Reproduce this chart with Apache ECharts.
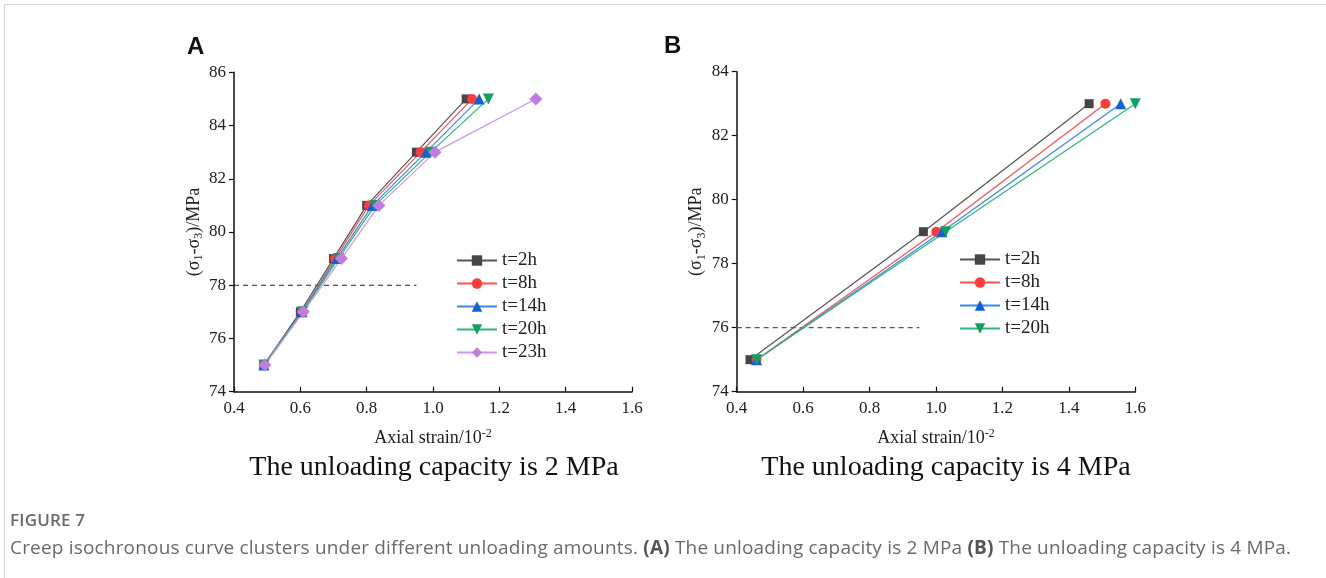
<!DOCTYPE html>
<html>
<head>
<meta charset="utf-8">
<script src="https://cdn.jsdelivr.net/npm/echarts@6/dist/echarts.min.js"></script>
<style>
  html, body { margin: 0; padding: 0; background: #fff; }
  #frame {
    position: absolute; left: 4px; top: 4px; width: 1330px; height: 580px;
    border-top: 1px solid #d4d4d4; border-left: 1px solid #d4d4d4;
  }
  #chart { position: absolute; left: 0; top: 0; width: 1326px; height: 578px; }
  .cap { position: absolute; left: 10px; font-family: "Open Sans", "Noto Sans", sans-serif; color: #6a6a6a; }
  #figno { top: 508px; font-size: 17px; font-weight: 600; letter-spacing: 0.2px; }
  #captext { top: 534px; font-size: 19px; letter-spacing: 0.18px; white-space: nowrap; }
  #captext b { font-weight: 700; color: #555; }
</style>
</head>
<body>
<div id="frame"></div>
<div id="chart"></div>
<div class="cap" id="figno">FIGURE 7</div>
<div class="cap" id="captext">Creep isochronous curve clusters under different unloading amounts. <b>(A)</b> The unloading capacity is 2 MPa <b>(B)</b> The unloading capacity is 4 MPa.</div>
<script>
// Panel A: unloading capacity 2 MPa (stress levels 75..85 MPa)
const stressA = [75, 77, 79, 81, 83, 85];
const strainA_2h = [0.49, 0.60, 0.70, 0.80, 0.95, 1.10];
const strainA_8h = [0.49, 0.605, 0.705, 0.807, 0.963, 1.118];
const strainA_14h = [0.49, 0.605, 0.71, 0.817, 0.979, 1.139];
const strainA_20h = [0.49, 0.607, 0.715, 0.825, 0.993, 1.167];
const strainA_23h = [0.493, 0.609, 0.724, 0.837, 1.006, 1.31];
const refLineA = [[0.4, 78], [0.95, 78]];

// Panel B: unloading capacity 4 MPa (stress levels 75, 79, 83 MPa)
const stressB = [75, 79, 83];
const strainB_2h = [0.44, 0.962, 1.461];
const strainB_8h = [0.46, 1.001, 1.51];
const strainB_14h = [0.46, 1.018, 1.556];
const strainB_20h = [0.46, 1.029, 1.60];
const refLineB = [[0.4, 76], [0.95, 76]];

const namesA = ["t=2h", "t=8h", "t=14h", "t=20h", "t=23h"];
const namesB = ["t=2h", "t=8h", "t=14h", "t=20h"];

const styles = {
  "t=2h":  { symbol: "rect", size: 9, marker: "#464646", line: "#555555" },
  "t=8h":  { symbol: "circle", size: 10, marker: "#ff3b3b", line: "#ff5050" },
  "t=14h": { symbol: "triangle", size: 11, marker: "#0d62d8", line: "#3a88e6" },
  "t=20h": { symbol: "path://M0,0L10,0L5,9Z", size: 11, marker: "#12a060", line: "#2eb67c" },
  "t=23h": { symbol: "diamond", size: 13, marker: "#c27ce0", line: "#cd95ea" },
};

const serif = "Liberation Serif, Times New Roman, serif";

function pairs(xs, ys) {
  return xs.map((x, i) => [x, ys[i]]);
}

function curve(name, xs, ys, idx) {
  const s = styles[name];
  return {
    name: name,
    type: "line",
    xAxisIndex: idx,
    yAxisIndex: idx,
    data: pairs(xs, ys),
    symbol: s.symbol,
    symbolSize: s.size,
    showAllSymbol: true,
    lineStyle: { color: s.line, width: 1.2 },
    itemStyle: { color: s.marker },
    z: 3,
    animation: false,
  };
}

function refLine(data, idx, color) {
  return {
    type: "line",
    xAxisIndex: idx,
    yAxisIndex: idx,
    data: data,
    symbol: "none",
    lineStyle: { color: color, width: 1.2, type: [5, 4] },
    z: 2,
    silent: true,
    animation: false,
  };
}

function xAxis(idx) {
  return {
    type: "value",
    gridIndex: idx,
    min: 0.4,
    max: 1.6,
    interval: 0.2,
    name: "{a|Axial strain/10}{s|-2}",
    nameLocation: "middle",
    nameGap: 36,
    nameTextStyle: {
      rich: {
        a: { fontFamily: serif, fontSize: 18, color: "#222", lineHeight: 22 },
        s: { fontFamily: serif, fontSize: 12, color: "#222", lineHeight: 22, verticalAlign: "top", padding: [0, 0, 8, 0] },
      },
    },
    axisLine: { lineStyle: { color: "#111", width: 1.5 } },
    axisTick: { inside: true, length: 5, lineStyle: { color: "#111", width: 1.2 } },
    axisLabel: {
      fontFamily: serif, fontSize: 17, color: "#222", margin: 8,
      formatter: (v) => v.toFixed(1),
    },
    splitLine: { show: false },
  };
}

function yAxis(idx, max) {
  return {
    type: "value",
    gridIndex: idx,
    min: 74,
    max: max,
    interval: 2,
    name: "{a|(σ}{s|1}{a|-σ}{s|3}{a|)/MPa}",
    nameLocation: "middle",
    nameGap: 29,
    nameTextStyle: {
      rich: {
        a: { fontFamily: serif, fontSize: 18, color: "#222", lineHeight: 22 },
        s: { fontFamily: serif, fontSize: 12, color: "#222", lineHeight: 22, verticalAlign: "bottom", padding: [8, 0, 0, 0] },
      },
    },
    axisLine: { show: true, lineStyle: { color: "#111", width: 1.5 } },
    axisTick: { show: true, inside: false, length: 5, lineStyle: { color: "#111", width: 1.2 } },
    axisLabel: { fontFamily: serif, fontSize: 17, color: "#222", margin: 8 },
    splitLine: { show: false },
  };
}

function legend(names, left, top) {
  return {
    data: names,
    orient: "vertical",
    left: left,
    top: top,
    itemWidth: 40,
    itemHeight: 13,
    itemGap: 4,
    textStyle: { fontFamily: serif, fontSize: 19, color: "#222", lineHeight: 18 },
    selectedMode: false,
  };
}

const chart = echarts.init(document.getElementById("chart"), null, { renderer: "canvas" });

const option = {
  backgroundColor: "transparent",
  animation: false,
  grid: [
    { left: 234, top: 72.3, width: 398, height: 319.4 },
    { left: 736.7, top: 71.7, width: 398.6, height: 320 },
  ],
  xAxis: [xAxis(0), xAxis(1)],
  yAxis: [yAxis(0, 86), yAxis(1, 84)],
  legend: [legend(namesA, 451, 246), legend(namesB, 954, 245)],
  graphic: [
    { type: "text", left: 187, top: 35, style: { text: "A", font: "bold 24px Liberation Sans, Arial, sans-serif", fill: "#111" } },
    { type: "text", left: 664, top: 34, style: { text: "B", font: "bold 24px Liberation Sans, Arial, sans-serif", fill: "#111" } },
    { type: "text", x: 434, y: 468, style: { text: "The unloading capacity is 2 MPa", font: "28px " + serif, fill: "#111", align: "center", verticalAlign: "middle" } },
    { type: "text", x: 946, y: 468, style: { text: "The unloading capacity is 4 MPa", font: "28px " + serif, fill: "#111", align: "center", verticalAlign: "middle" } },
  ],
  series: [
    refLine(refLineA, 0, "#222"),
    curve("t=2h", strainA_2h, stressA, 0),
    curve("t=8h", strainA_8h, stressA, 0),
    curve("t=14h", strainA_14h, stressA, 0),
    curve("t=20h", strainA_20h, stressA, 0),
    curve("t=23h", strainA_23h, stressA, 0),
    refLine(refLineB, 1, "#555"),
    curve("t=2h", strainB_2h, stressB, 1),
    curve("t=8h", strainB_8h, stressB, 1),
    curve("t=14h", strainB_14h, stressB, 1),
    curve("t=20h", strainB_20h, stressB, 1),
  ],
};

chart.setOption(option);
</script>
</body>
</html>
